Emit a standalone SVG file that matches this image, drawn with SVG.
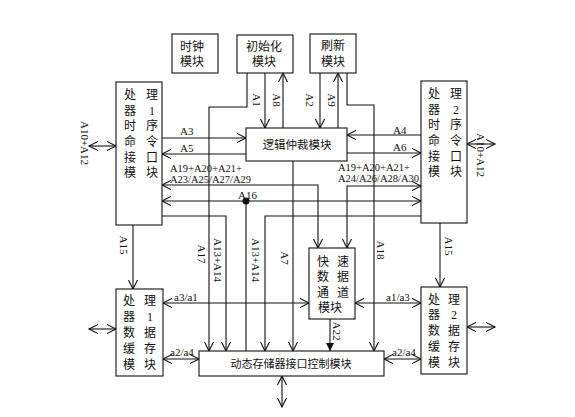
<svg xmlns="http://www.w3.org/2000/svg" width="575" height="417" viewBox="0 0 575 417">
<style>
.box{fill:#fff;stroke:#111;stroke-width:1.1}
.ln{fill:none;stroke:#111;stroke-width:1.1}
.a{marker-end:url(#arr)}
.aa{marker-start:url(#arr);marker-end:url(#arr)}
.cn{font-family:"Liberation Serif","Noto Sans CJK SC",serif;font-size:12px;fill:#111;text-anchor:middle;dominant-baseline:central}
.lb{font-family:"Liberation Serif","Noto Sans CJK SC",serif;font-size:11px;fill:#111}
.sm{font-size:10.5px}
.rl{font-family:"Liberation Serif","Noto Sans CJK SC",serif;font-size:11px;fill:#111;text-anchor:middle;dominant-baseline:central}
</style>
<defs>
<marker id="arr" markerUnits="userSpaceOnUse" markerWidth="12" markerHeight="12" refX="9" refY="5" orient="auto-start-reverse" viewBox="0 0 12 10">
<path d="M0,0.5 L9,5 L0,9.5" fill="none" stroke="#111" stroke-width="1.1"/>
</marker>
<marker id="farr" markerUnits="userSpaceOnUse" markerWidth="10" markerHeight="10" refX="8" refY="4" orient="auto" viewBox="0 0 10 8">
<path d="M0,0 L8,4 L0,8 Z" fill="#111"/>
</marker>
</defs>
<rect width="575" height="417" fill="#fff"/>

<g id="connectors">
<path class="ln a" d="M247,73 V107 H209 V351"/>
<path class="ln a" d="M347,73 V105 H374 V351"/>
<path class="ln a" d="M265,73 V128"/>
<path class="ln a" d="M283,128 V73"/>
<path class="ln a" d="M320,73 V128"/>
<path class="ln a" d="M338,128 V73"/>
<path class="ln a" d="M162,138 H246"/>
<path class="ln a" d="M246,154 H162"/>
<path class="ln a" d="M421,135 H347"/>
<path class="ln a" d="M347,153 H421"/>
<path class="ln aa" d="M318,248 V185 H162"/>
<path class="ln aa" d="M347,248 V186 H421"/>
<path class="ln aa" d="M162,201 H421"/>
<path class="ln" d="M246,201 V351"/>
<circle cx="246" cy="201" r="3.5" fill="#111"/>
<path class="ln a" d="M162,216 H226 V351"/>
<path class="ln a" d="M421,216 H265 V351"/>
<path class="ln a" d="M293,161 V351"/>
<path class="ln a" d="M133,225 V289"/>
<path class="ln a" d="M440,223 V287"/>
<path class="ln" d="M330,319 V351" marker-end="url(#farr)"/>
<path class="ln aa" d="M163,303 H309"/>
<path class="ln aa" d="M355,303 H421"/>
<path class="ln aa" d="M163,359 H199"/>
<path class="ln aa" d="M384,359 H421"/>
<path class="ln aa" d="M89,146 H116"/>
<path class="ln aa" d="M467,144 H495"/>
<path class="ln aa" d="M89,329 H116"/>
<path class="ln aa" d="M467,327 H495"/>
<path class="ln aa" d="M282,376 V407"/>

<text class="lb" x="180" y="135">A3</text>
<text class="lb" x="180" y="152">A5</text>
<text class="lb" x="393" y="134">A4</text>
<text class="lb" x="393" y="151">A6</text>
<text class="lb sm" x="170" y="172">A19+A20+A21+</text>
<text class="lb sm" x="170" y="183">A23/A25/A27/A29</text>
<text class="lb sm" x="338" y="171">A19+A20+A21+</text>
<text class="lb sm" x="338" y="182">A24/A26/A28/A30</text>
<text class="lb" x="238" y="199">A16</text>
<text class="lb" x="174" y="301">a3/a1</text>
<text class="lb" x="386" y="301">a1/a3</text>
<text class="lb" x="170" y="356">a2/a4</text>
<text class="lb" x="392" y="356">a2/a4</text>
<text class="rl" transform="rotate(90 257 100)" x="257" y="100">A1</text>
<text class="rl" transform="rotate(90 277 100)" x="277" y="100">A8</text>
<text class="rl" transform="rotate(90 310 100)" x="310" y="100">A2</text>
<text class="rl" transform="rotate(90 332 100)" x="332" y="100">A9</text>
<text class="rl" transform="rotate(90 85 143)" x="85" y="143">A10+A12</text>
<text class="rl" transform="rotate(90 481 155)" x="481" y="155">A10+A12</text>
<text class="rl" transform="rotate(90 124 245)" x="124" y="245">A15</text>
<text class="rl" transform="rotate(90 449 246)" x="449" y="246">A15</text>
<text class="rl" transform="rotate(90 202 254)" x="202" y="254">A17</text>
<text class="rl" transform="rotate(90 218 260)" x="218" y="260">A13+A14</text>
<text class="rl" transform="rotate(90 256 260)" x="256" y="260">A13+A14</text>
<text class="rl" transform="rotate(90 285 258)" x="285" y="258">A7</text>
<text class="rl" transform="rotate(90 381 250)" x="381" y="250">A18</text>
<text class="rl" transform="rotate(90 337 331)" x="337" y="331">A22</text>
</g>

<g id="clock">
<rect class="box" x="172" y="34" width="46" height="39"/>
<text class="cn" x="192" y="47">时钟</text>
<text class="cn" x="192" y="62">模块</text>
</g>
<g id="init">
<rect class="box" x="237" y="35" width="56" height="38"/>
<text class="cn" x="264" y="47">初始化</text>
<text class="cn" x="264" y="62">模块</text>
</g>
<g id="refresh">
<rect class="box" x="310" y="34" width="46" height="39"/>
<text class="cn" x="333" y="46">刷新</text>
<text class="cn" x="333" y="62">模块</text>
</g>
<g id="arbiter">
<rect class="box" x="246" y="128" width="101" height="33"/>
<text class="cn" x="297" y="145" style="font-size:11.5px">逻辑仲裁模块</text>
</g>
<g id="cmd1">
<rect class="box" x="116" y="82" width="46" height="143"/>
<text class="cn" x="130" y="95">处</text><text class="cn" x="152" y="95">理</text>
<text class="cn" x="130" y="111">器</text><text class="cn" x="152" y="111">1</text>
<text class="cn" x="130" y="126">时</text><text class="cn" x="152" y="126">序</text>
<text class="cn" x="130" y="142">命</text><text class="cn" x="152" y="142">令</text>
<text class="cn" x="130" y="158">接</text><text class="cn" x="152" y="158">口</text>
<text class="cn" x="130" y="173">模</text><text class="cn" x="152" y="173">块</text>
</g>
<g id="cmd2">
<rect class="box" x="421" y="81" width="46" height="142"/>
<text class="cn" x="434" y="94">处</text><text class="cn" x="456" y="94">理</text>
<text class="cn" x="434" y="110">器</text><text class="cn" x="456" y="110">2</text>
<text class="cn" x="434" y="125">时</text><text class="cn" x="456" y="125">序</text>
<text class="cn" x="434" y="141">命</text><text class="cn" x="456" y="141">令</text>
<text class="cn" x="434" y="157">接</text><text class="cn" x="456" y="157">口</text>
<text class="cn" x="434" y="172">模</text><text class="cn" x="456" y="172">块</text>
</g>
<g id="fastpath">
<rect class="box" x="309" y="248" width="46" height="71"/>
<text class="cn" x="323" y="262">快</text><text class="cn" x="343" y="262">速</text>
<text class="cn" x="323" y="277">数</text><text class="cn" x="343" y="277">据</text>
<text class="cn" x="323" y="293">通</text><text class="cn" x="343" y="293">道</text>
<text class="cn" x="330" y="308">模块</text>
</g>
<g id="data1">
<rect class="box" x="116" y="289" width="47" height="87"/>
<text class="cn" x="129" y="301">处</text><text class="cn" x="150" y="301">理</text>
<text class="cn" x="129" y="317">器</text><text class="cn" x="150" y="317">1</text>
<text class="cn" x="129" y="333">数</text><text class="cn" x="150" y="333">据</text>
<text class="cn" x="129" y="349">缓</text><text class="cn" x="150" y="349">存</text>
<text class="cn" x="129" y="365">模</text><text class="cn" x="150" y="365">块</text>
</g>
<g id="data2">
<rect class="box" x="421" y="287" width="46" height="87"/>
<text class="cn" x="434" y="300">处</text><text class="cn" x="454" y="300">理</text>
<text class="cn" x="434" y="315">器</text><text class="cn" x="454" y="315">2</text>
<text class="cn" x="434" y="331">数</text><text class="cn" x="454" y="331">据</text>
<text class="cn" x="434" y="347">缓</text><text class="cn" x="454" y="347">存</text>
<text class="cn" x="434" y="363">模</text><text class="cn" x="454" y="363">块</text>
</g>
<g id="dram">
<rect class="box" x="199" y="351" width="185" height="25"/>
<text class="cn" x="291" y="364" style="font-size:11px">动态存储器接口控制模块</text>
</g>
</svg>
